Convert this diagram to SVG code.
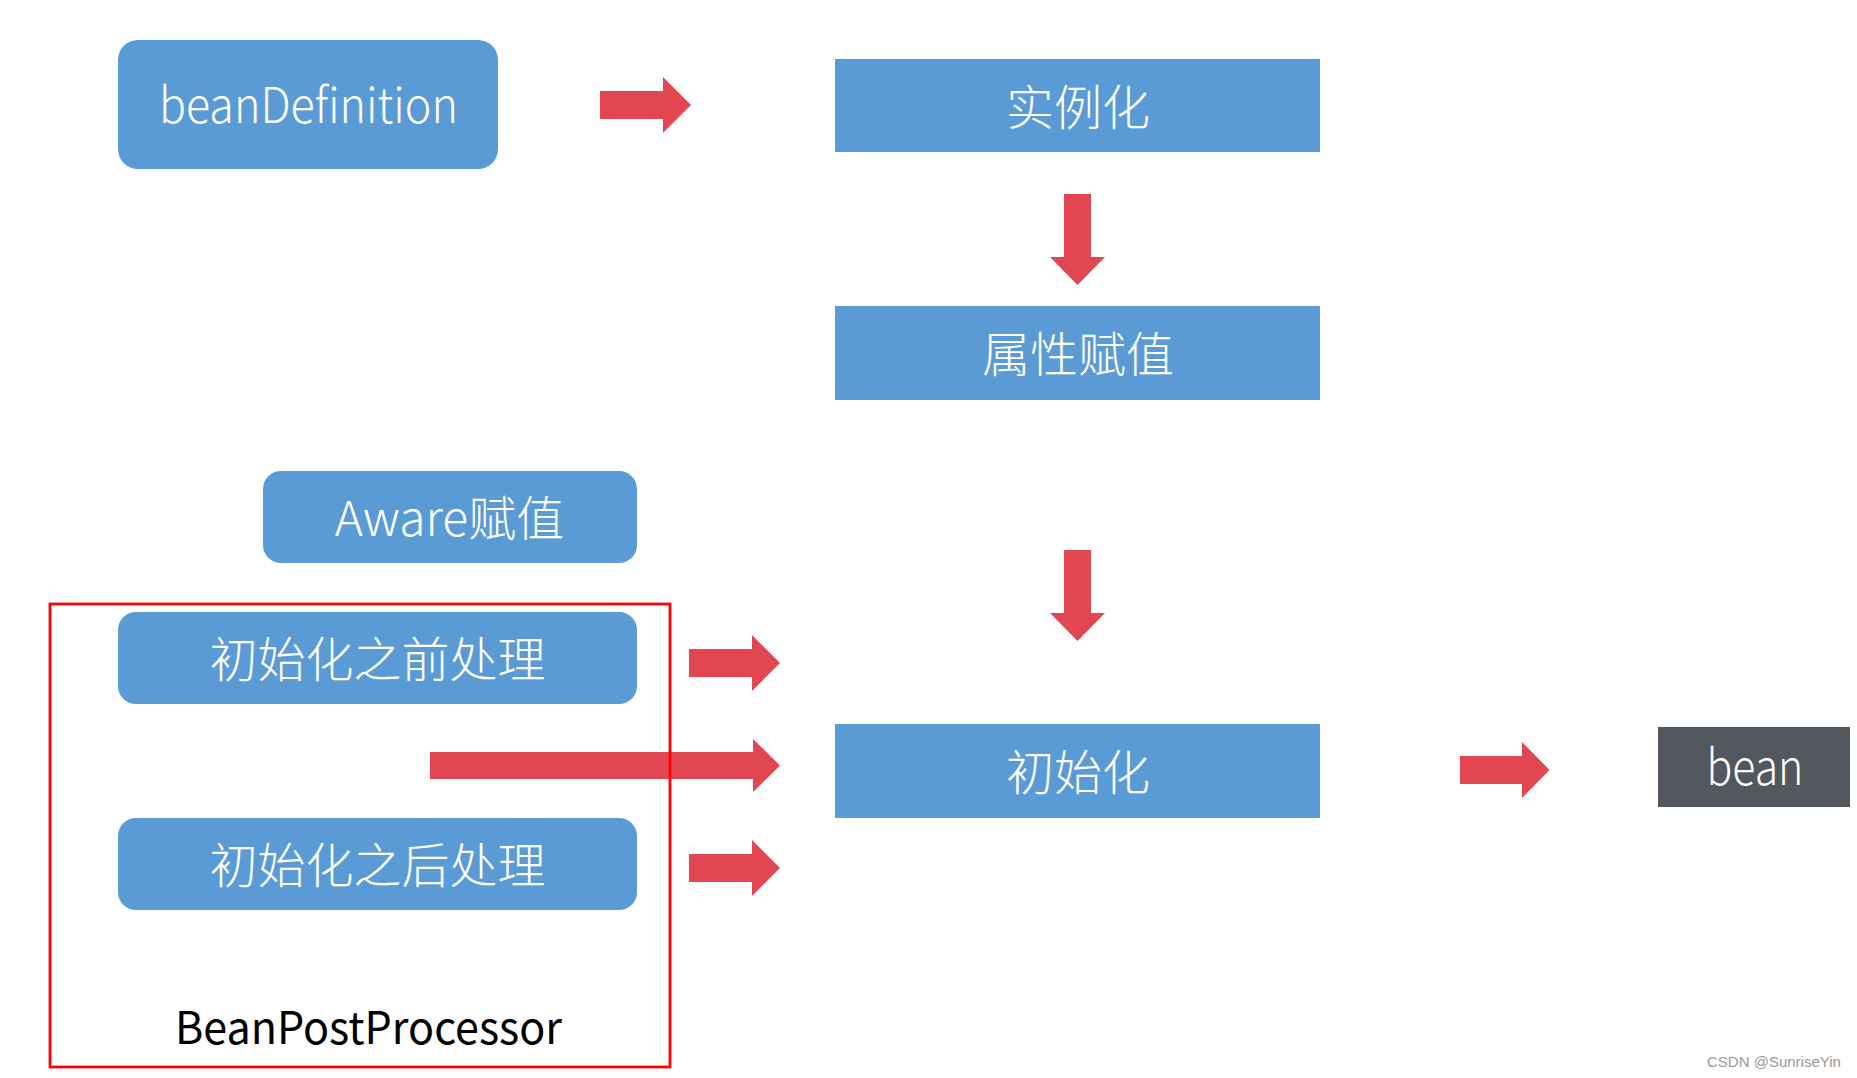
<svg xmlns="http://www.w3.org/2000/svg" width="1857" height="1078" viewBox="0 0 1857 1078">
<style>
.box{fill:#5b9bd5}
.dark{fill:#53575e}
.lbl{fill:#ffffff;font-family:"Noto Sans CJK SC","Noto Sans",sans-serif;font-weight:300;font-size:48px;text-anchor:middle}
.lat{fill:#ffffff;font-family:"Noto Sans CJK SC","Noto Sans",sans-serif;font-weight:300;font-size:49px;text-anchor:middle}
.arrow{fill:#e24751}
.frame{fill:none;stroke:#ff0000;stroke-width:2.8}
.blk{fill:#000000;font-family:"Noto Sans CJK SC","Noto Sans",sans-serif;font-size:45px;text-anchor:middle}
.wm{fill:#999999;font-family:"Liberation Sans",Arial,sans-serif;font-size:15px}
</style>
<rect width="1857" height="1078" fill="#ffffff"/>
<g id="node-beanDefinition">
<rect class="box" x="118" y="40" width="380" height="129" rx="20"/>
<text class="lat" x="308.5" y="123" textLength="299" lengthAdjust="spacingAndGlyphs">beanDefinition</text>
</g>
<g id="node-instantiate">
<rect class="box" x="835" y="59" width="485" height="93"/>
<text class="lbl" x="1078" y="124.5">实例化</text>
</g>
<g id="node-populate">
<rect class="box" x="835" y="306" width="485" height="94"/>
<text class="lbl" x="1078" y="371.5">属性赋值</text>
</g>
<g id="node-aware">
<rect class="box" x="263" y="471" width="374" height="92" rx="18"/>
<text class="lbl" x="449.5" y="536">Aware赋值</text>
</g>
<g id="node-init">
<rect class="box" x="835" y="724" width="485" height="94"/>
<text class="lbl" x="1078" y="789.5">初始化</text>
</g>
<g id="node-bean">
<rect class="dark" x="1658" y="727" width="192" height="80"/>
<text class="lat" x="1755" y="785" textLength="97" lengthAdjust="spacingAndGlyphs">bean</text>
</g>
<g id="connectors">
<polygon class="arrow" points="600,91 663,91 663,77 691,105 663,133 663,119 600,119"/>
<polygon class="arrow" points="1064,194 1091,194 1091,257 1105,257 1077.5,285 1050,257 1064,257"/>
<polygon class="arrow" points="1064,550 1091,550 1091,613 1105,613 1077.5,641 1050,613 1064,613"/>
<polygon class="arrow" points="689,649 752,649 752,635 780,663 752,691 752,677 689,677"/>
<polygon class="arrow" points="430,752 753,752 753,739 780,765.5 753,792 753,779 430,779"/>
<polygon class="arrow" points="689,854 752,854 752,840 780,868 752,896 752,882 689,882"/>
<polygon class="arrow" points="1460,756 1522,756 1522,742 1549.5,770 1522,798 1522,784 1460,784"/>
</g>
<g id="node-beanPostProcessor">
<rect class="frame" x="50" y="604" width="620" height="463"/>
<text class="blk" x="368.5" y="1044" textLength="387" lengthAdjust="spacingAndGlyphs">BeanPostProcessor</text>
</g>
<g id="node-before">
<rect class="box" x="118" y="612" width="519" height="92" rx="18"/>
<text class="lbl" x="377.5" y="677">初始化之前处理</text>
</g>
<g id="node-after">
<rect class="box" x="118" y="818" width="519" height="92" rx="18"/>
<text class="lbl" x="377.5" y="883">初始化之后处理</text>
</g>
<text class="wm" x="1707" y="1067">CSDN @SunriseYin</text>
</svg>
